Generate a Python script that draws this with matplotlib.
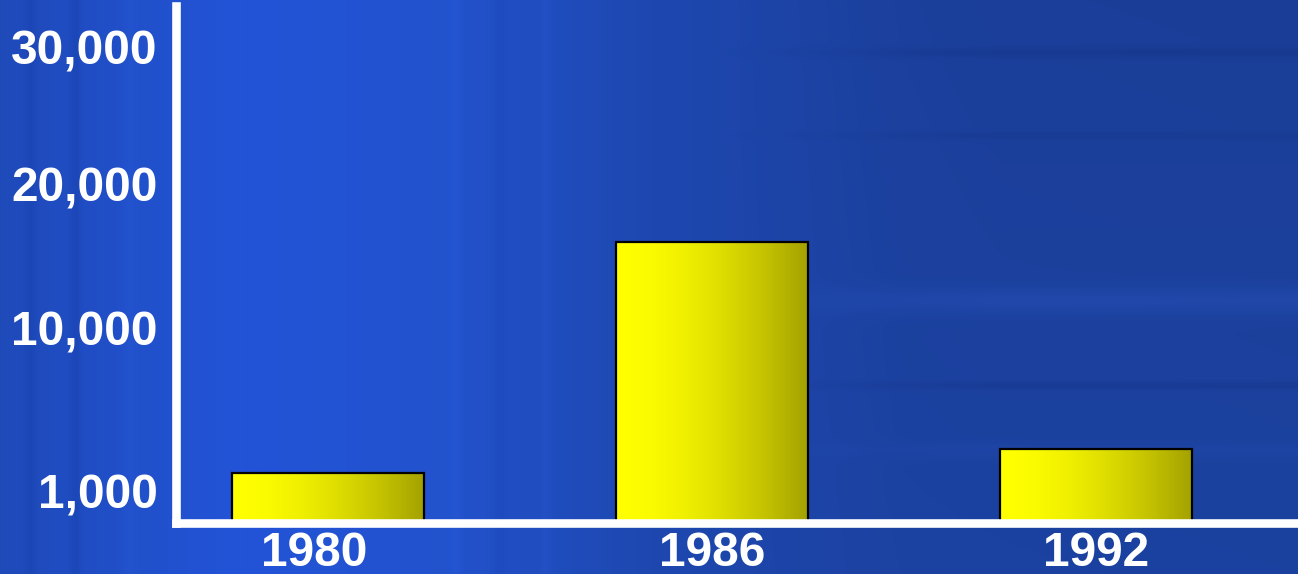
import numpy as np
import matplotlib.pyplot as plt
from matplotlib import transforms

years = ['1980', '1986', '1992']
counts = [2000, 16000, 3300]

tick_values = [1000, 10000, 20000, 30000]
tick_labels = ['1,000', '10,000', '20,000', '30,000']

# the value axis is stretched unevenly: height above the baseline (px) for each value
scale_values = [0, 1000, 10000, 20000, 30000]
scale_heights = [0, 32, 195, 339, 475.5]


def to_axis(v):
    v = np.asarray(v, dtype=float)
    slope = (scale_heights[-1] - scale_heights[-2]) / (scale_values[-1] - scale_values[-2])
    out = np.interp(v, scale_values, scale_heights)
    return np.where(v > scale_values[-1], scale_heights[-1] + (v - scale_values[-1]) * slope, out)


def from_axis(p):
    p = np.asarray(p, dtype=float)
    slope = (scale_values[-1] - scale_values[-2]) / (scale_heights[-1] - scale_heights[-2])
    out = np.interp(p, scale_heights, scale_values)
    return np.where(p > scale_heights[-1], scale_values[-1] + (p - scale_heights[-1]) * slope, out)


plt.rcParams['font.family'] = ['Liberation Sans', 'DejaVu Sans']

W, H = 1298, 574
fig = plt.figure(figsize=(W / 100, H / 100), dpi=100)

# blue slide background
xs = np.arange(W)
ys = np.arange(H)[:, None]
stops = [0, 120, 240, 450, 650, 900, W]
r = [0x1F, 0x21, 0x23, 0x22, 0x1E, 0x1C, 0x1C]
g = [0x4A, 0x4F, 0x54, 0x52, 0x48, 0x42, 0x42]
b = [0xBA, 0xC8, 0xD8, 0xCC, 0xB0, 0xA2, 0xA0]
row = np.stack([np.interp(xs, stops, c) for c in (r, g, b)], axis=-1) / 255
img = np.broadcast_to(row, (H, W, 3)).copy()
right = np.clip((xs - 700) / 300, 0, 1)
img *= (1 - 0.05 * right * (1 - ys / H))[..., None]
# faint horizontal streaks on the right half
for yc, amp, sig in [(52, -0.035, 5), (135, -0.025, 4), (300, 0.05, 14), (385, -0.035, 4), (450, 0.02, 8)]:
    band = amp * np.exp(-((ys - yc) / sig) ** 2) * right
    img += band[..., None] * np.array([0.4, 0.6, 1.0])
# vertical streaks near the left edge and in the middle
for xc, amp, sig in [(30, -0.03, 6), (75, -0.04, 5), (130, 0.02, 8), (455, 0.025, 6), (500, -0.025, 7), (545, 0.025, 5)]:
    band = amp * np.exp(-((xs - xc) / sig) ** 2)
    img += band[None, :, None] * np.array([0.4, 0.6, 1.0])
img = np.clip(img, 0, 1)

bg = fig.add_axes([0, 0, 1, 1], zorder=-1)
bg.imshow(img, aspect='auto', interpolation='bilinear')
bg.axis('off')

ax = fig.add_axes([175.5 / W, (H - 523) / H, (1294 - 175.5) / W, (523 - 6) / H])
ax.set_facecolor('none')
ax.set_yscale('function', functions=(to_axis, from_axis))

x = np.arange(len(years))
width = 0.5

# yellow-to-olive horizontal gradient inside each bar
n = 80
left_col = np.array([1.0, 1.0, 0.0])
right_col = np.array([0.64, 0.63, 0.0])
for k in range(n):
    t = (k + 0.5) / n
    c = left_col + (right_col - left_col) * t ** 1.7
    ax.bar(x - width / 2 + t * width, counts, width=width / n * 1.3,
           color=c, linewidth=0, zorder=1)
ax.bar(x, counts, width=width, fill=False, edgecolor='black', linewidth=1.6, zorder=2)

ax.set_xlim(-0.397, 2.516)
ax.set_ylim(0, float(from_axis(517)))

ax.set_xticks(x)
ax.set_xticklabels(years)
ax.set_yticks(tick_values)
ax.set_yticklabels(tick_labels)
ax.tick_params(axis='both', length=0, labelcolor='white', labelsize=34.5)
ax.tick_params(axis='x', pad=6)
ax.tick_params(axis='y', pad=13)
for lab in ax.get_xticklabels() + ax.get_yticklabels():
    lab.set_fontweight('bold')

# first year label sits a little left of its bar
off = transforms.ScaledTranslation(-14 / 100, 0, fig.dpi_scale_trans)
lab0 = ax.get_xticklabels()[0]
lab0.set_transform(lab0.get_transform() + off)

for side in ['top', 'right']:
    ax.spines[side].set_visible(False)
for side in ['left', 'bottom']:
    ax.spines[side].set_color('white')
    ax.spines[side].set_linewidth(6.2)
    ax.spines[side].set_capstyle('projecting')
    ax.spines[side].set_zorder(3)

fig.savefig('out.png', dpi=100)
